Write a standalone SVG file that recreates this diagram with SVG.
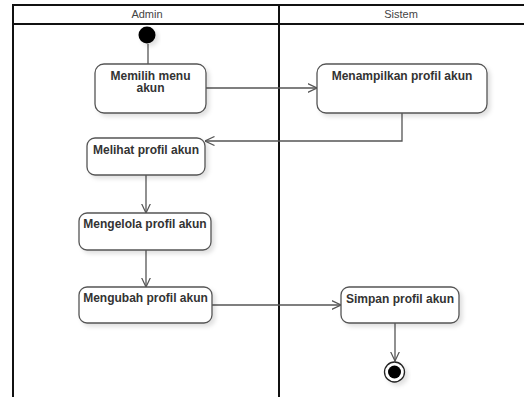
<svg xmlns="http://www.w3.org/2000/svg" width="524" height="399" viewBox="0 0 524 399">
  <style>
    .lane { stroke: #111; stroke-width: 2; fill: none; }
    .lane-title { font-family: "Liberation Sans", Arial, sans-serif; font-size: 11px; fill: #444; text-anchor: middle; }
    .act { fill: #fff; stroke: #555; stroke-width: 1.3; filter: url(#shadow); }
    .label { font-family: "Liberation Sans", Arial, sans-serif; font-size: 12px; font-weight: bold; fill: #333; text-anchor: middle; }
    .flow { stroke: #555; stroke-width: 1.3; fill: none; marker-end: url(#open-arrow); }
  </style>
  <defs>
    <filter id="shadow" x="-20%" y="-20%" width="150%" height="160%">
      <feDropShadow dx="3" dy="3" stdDeviation="2" flood-color="#000" flood-opacity="0.12"/>
    </filter>
    <marker id="open-arrow" viewBox="0 0 10 10" refX="9.5" refY="5" markerWidth="10" markerHeight="10" markerUnits="userSpaceOnUse" orient="auto">
      <path d="M0,0.5 L9.5,5 L0,9.5" fill="none" stroke="#555" stroke-width="1.2"/>
    </marker>
  </defs>

  <rect width="524" height="399" fill="#fff"/>

  <!-- swimlanes -->
  <g id="swimlanes">
    <line class="lane" x1="13" y1="5" x2="524" y2="5"/>
    <line class="lane" x1="13" y1="24" x2="524" y2="24"/>
    <line class="lane" x1="13" y1="4" x2="13" y2="397"/>
    <line class="lane" x1="279" y1="4" x2="279" y2="397"/>
    <text class="lane-title" x="147" y="18">Admin</text>
    <text class="lane-title" x="401" y="18">Sistem</text>
  </g>

  <!-- connectors -->
  <g id="connectors">
    <line class="flow" x1="148" y1="44" x2="148" y2="73"/>
    <line class="flow" x1="206" y1="88" x2="317" y2="88"/>
    <polyline class="flow" points="402,113 402,141 205,141"/>
    <line class="flow" x1="146" y1="175" x2="146" y2="213"/>
    <line class="flow" x1="146" y1="250" x2="146" y2="287"/>
    <line class="flow" x1="212" y1="305" x2="341" y2="305"/>
    <line class="flow" x1="395" y1="323" x2="395" y2="361"/>
  </g>

  <!-- nodes -->
  <g id="start">
    <circle cx="147" cy="35" r="8.5" fill="#000" filter="url(#shadow)"/>
  </g>

  <g id="memilih-menu-akun">
    <rect class="act" x="95" y="64" width="111" height="49" rx="9"/>
    <text class="label" x="150.5" y="79.5">Memilih menu</text>
    <text class="label" x="150.5" y="92">akun</text>
  </g>

  <g id="menampilkan-profil-akun">
    <rect class="act" x="317" y="64" width="170" height="49" rx="9"/>
    <text class="label" x="402" y="80">Menampilkan profil akun</text>
  </g>

  <g id="melihat-profil-akun">
    <rect class="act" x="87" y="138" width="118" height="37" rx="8"/>
    <text class="label" x="146" y="154">Melihat profil akun</text>
  </g>

  <g id="mengelola-profil-akun">
    <rect class="act" x="79" y="213" width="132" height="37" rx="8"/>
    <text class="label" x="145" y="228">Mengelola profil akun</text>
  </g>

  <g id="mengubah-profil-akun">
    <rect class="act" x="79" y="287" width="133" height="36" rx="8"/>
    <text class="label" x="145.5" y="302">Mengubah profil akun</text>
  </g>

  <g id="simpan-profil-akun">
    <rect class="act" x="341" y="287" width="118" height="36" rx="8"/>
    <text class="label" x="400" y="303">Simpan profil akun</text>
  </g>

  <g id="end">
    <circle cx="394.5" cy="372" r="10" fill="#fff" stroke="#222" stroke-width="1.3" filter="url(#shadow)"/>
    <circle cx="394.5" cy="372" r="6.5" fill="#000"/>
  </g>
</svg>
